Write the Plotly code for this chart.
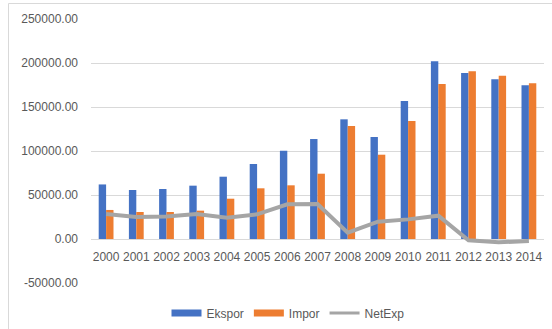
import plotly.graph_objects as go

years = [str(y) for y in range(2000, 2015)]
ekspor = [62000, 55700, 56800, 60600, 70800, 85200, 100300, 113600, 136000, 115900,
          156800, 201900, 188600, 181400, 174600]
impor = [33000, 30700, 30700, 32200, 45800, 57600, 61000, 74200, 128400, 95800,
         134100, 176100, 190500, 185600, 176900]
netexp = [28400, 25000, 25500, 28400, 24200, 28000, 39400, 39800, 7200, 19700,
          22300, 26500, -1500, -3800, -2300]
ytick_vals = [-50000, 0, 50000, 100000, 150000, 200000, 250000]
ytick_text = ["-50000.00", "0.00", "50000.00", "100000.00", "150000.00", "200000.00", "250000.00"]
title_text = "Perkembangan Ekspor, Impor, dan NetExp"

BLUE = "#4472C4"
ORANGE = "#ED7D31"
GRAY = "#A5A5A5"
TXT = "#595959"
GRID = "#D9D9D9"

# plot area in pixels
L, R, T, B = 91, 544, 19, 283
W, H = 552, 329

def px(x):
    return (x - L) / (R - L)

def py(y):
    return (B - y) / (B - T)

fig = go.Figure()
fig.add_trace(go.Bar(x=years, y=ekspor, name="Ekspor", marker=dict(color=BLUE, line_width=0),
                     showlegend=False))
fig.add_trace(go.Bar(x=years, y=impor, name="Impor", marker=dict(color=ORANGE, line_width=0),
                     showlegend=False))
fig.add_trace(go.Scatter(x=years, y=netexp, name="NetExp", mode="lines",
                         line=dict(color=GRAY, width=4), showlegend=False))
# legend entries
fig.add_trace(go.Scatter(x=[None], y=[None], name="Ekspor", mode="lines",
                         line=dict(color=BLUE, width=7)))
fig.add_trace(go.Scatter(x=[None], y=[None], name="Impor", mode="lines",
                         line=dict(color=ORANGE, width=7)))
fig.add_trace(go.Scatter(x=[None], y=[None], name="NetExp", mode="lines",
                         line=dict(color=GRAY, width=3)))

fig.update_layout(
    width=W, height=H,
    margin=dict(l=L, r=W - R, t=T, b=H - B, pad=0, autoexpand=False),
    paper_bgcolor="white", plot_bgcolor="white",
    barmode="group", bargap=0.51, bargroupgap=0,
    font=dict(family="Liberation Sans, Arial, sans-serif", size=12, color=TXT),
    showlegend=True,
    legend=dict(orientation="h", x=288 / W, xref="container", xanchor="center",
                y=(H - 313) / H, yref="container", yanchor="middle",
                font=dict(size=12, color=TXT), itemwidth=30, bgcolor="rgba(0,0,0,0)"),
    xaxis=dict(type="category", anchor="free", position=50000 / 300000,
               showgrid=False, showline=False, zeroline=False, ticks="",
               ticklabelstandoff=9, tickfont=dict(size=12, color=TXT), automargin=False),
    yaxis=dict(range=[-50000, 250000], tickvals=ytick_vals, ticktext=ytick_text,
               showgrid=True, gridcolor=GRID, gridwidth=1, zeroline=True,
               zerolinecolor=GRID, zerolinewidth=1, showline=False, ticks="",
               ticklabelstandoff=12, tickfont=dict(size=12, color=TXT), automargin=False),
    shapes=[
        dict(type="line", xref="paper", yref="paper", x0=px(8.5), x1=px(8.5),
             y0=py(3.5), y1=py(340), line=dict(color=GRID, width=1), layer="below"),
        dict(type="line", xref="paper", yref="paper", x0=px(8.5), x1=px(560),
             y0=py(3.5), y1=py(3.5), line=dict(color=GRID, width=1), layer="below"),
    ],
    annotations=[
        dict(text="<b>" + title_text + "</b>", xref="paper", yref="paper",
             x=px(119), xanchor="left", y=py(0), yanchor="bottom", showarrow=False,
             font=dict(family="Liberation Serif, Times New Roman, serif", size=24, color="black")),
    ],
)

fig.write_html("out.html")
